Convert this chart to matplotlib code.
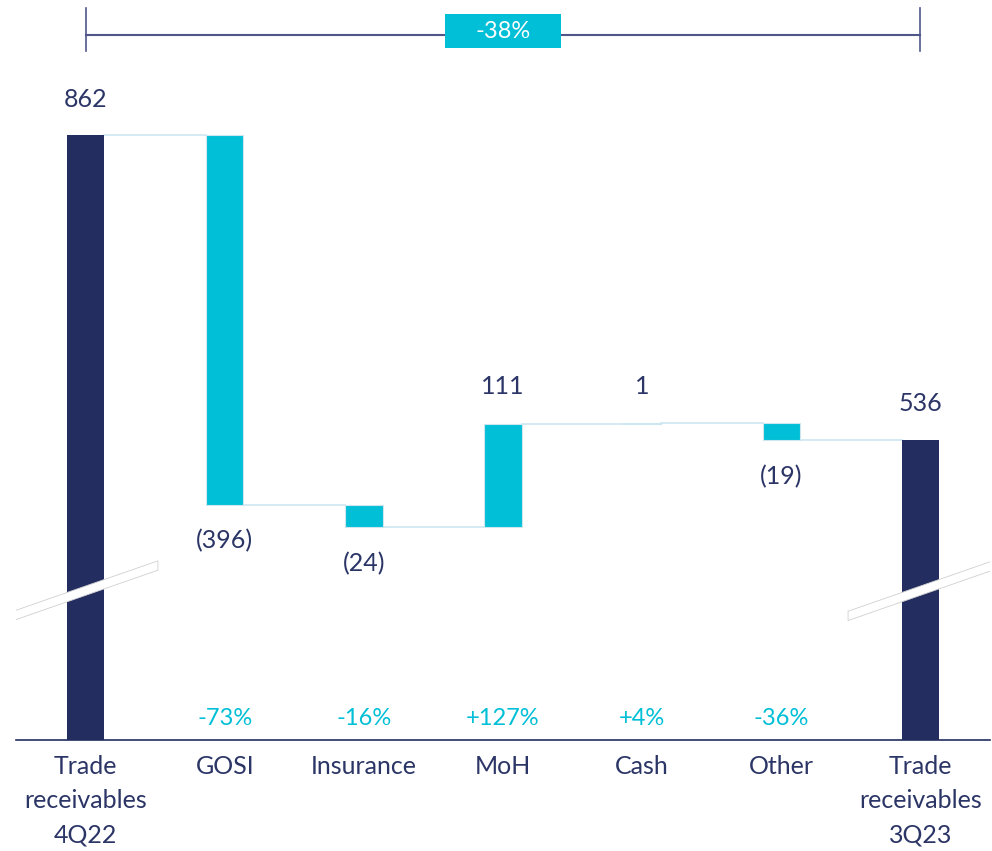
import numpy as np
import matplotlib.pyplot as plt
from matplotlib.patches import Polygon, Rectangle

plt.rcParams['font.family'] = ['Lato', 'DejaVu Sans']

# --- dados ---
categories = ["Trade\nreceivables\n4Q22", "GOSI", "Insurance", "MoH", "Cash", "Other",
              "Trade\nreceivables\n3Q23"]
start_value = 862
end_value = 536
deltas = [-396, -24, 111, 1, -19]
delta_labels = ["(396)", "(24)", "111", "1", "(19)"]
pct_labels = ["-73%", "-16%", "+127%", "+4%", "-36%"]
total_change = "-38%"

navy = "#232d5f"
cyan = "#00bfd6"
text_col = "#2b3566"
conn_col = "#cde6f0"

fig = plt.figure(figsize=(9.92, 8.51), dpi=100)
ax = fig.add_axes([16 / 992, (851 - 740) / 851, 974 / 992, 740 / 851])

ymin, ymax = 214, 1007
width = 0.27

# barras inicial e final
ax.bar(0, start_value - ymin, bottom=ymin, width=width, color=navy, zorder=2)
ax.bar(6, end_value - ymin, bottom=ymin, width=width, color=navy, zorder=2)

# barras de variação
level = start_value
levels = [start_value]
for i, d in enumerate(deltas, start=1):
    lo = min(level, level + d)
    ax.bar(i, abs(d), bottom=lo, width=width, color=cyan, edgecolor=conn_col,
           linewidth=0.8, zorder=2)
    level += d
    levels.append(level)

# linhas de conexão
for i in range(6):
    y = levels[i] if i < 5 else end_value
    ax.plot([i + width / 2, i + 1 - width / 2], [y, y], color=conn_col, lw=1.2, zorder=1)

# rótulos de valor
fs_val = 18
ax.text(0, start_value + 26, str(start_value), ha='center', va='bottom', fontsize=fs_val,
        color=text_col)
ax.text(6, end_value + 26, str(end_value), ha='center', va='bottom', fontsize=fs_val,
        color=text_col)
prev = start_value
for i, (d, lab) in enumerate(zip(deltas, delta_labels), start=1):
    new = prev + d
    if d >= 0:
        ax.text(i, max(prev, new) + 27, lab, ha='center', va='bottom', fontsize=fs_val,
                color=text_col)
    else:
        ax.text(i, min(prev, new) - 26, lab, ha='center', va='top', fontsize=fs_val,
                color=text_col)
    prev = new

# percentuais
for i, p in enumerate(pct_labels, start=1):
    ax.text(i, ymin + 23, p, ha='center', va='center', fontsize=17, color=cyan)

# marcas de quebra de eixo
ybreak = ymin + 160
for i in (0, 6):
    hx, slope, th = 0.52, 27, 5
    pts = [(i - hx, ybreak - slope - th), (i + hx, ybreak + slope - th),
           (i + hx, ybreak + slope + th), (i - hx, ybreak - slope + th)]
    ax.add_patch(Polygon(pts, closed=True, facecolor='white', edgecolor='#d0d0d0',
                         lw=0.6, zorder=3))

# colchete superior
yb = 969
ax.plot([0, 6], [yb, yb], color="#4f5789", lw=1.5, clip_on=False, zorder=1)
for i in (0, 6):
    ax.plot([i, i], [yb - 17, yb + 29], color="#4f5789", lw=1.2, clip_on=False)
bw, bh = 0.83, 36
ax.add_patch(Rectangle((3 - bw / 2, yb + 4.5 - bh / 2), bw, bh, facecolor=cyan,
                       edgecolor='none', clip_on=False, zorder=3))
ax.text(3, yb + 4.5, total_change, ha='center', va='center', fontsize=17, color='white',
        zorder=4)

ax.set_xlim(-0.5, 6.5)
ax.set_ylim(ymin, ymax)
ax.set_xticks(range(7))
ax.set_xticklabels(categories, fontsize=18, color=text_col, linespacing=1.58)
ax.tick_params(axis='x', length=0, pad=11)
ax.set_yticks([])
for s in ('top', 'right', 'left'):
    ax.spines[s].set_visible(False)
ax.spines['bottom'].set_color(navy)
ax.spines['bottom'].set_linewidth(1.2)

plt.savefig('out.png', dpi=100)
